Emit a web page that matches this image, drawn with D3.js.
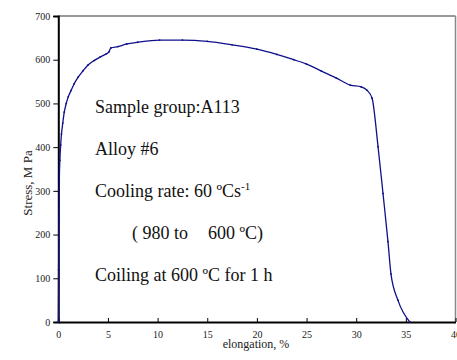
<!DOCTYPE html>
<html>
<head>
<meta charset="utf-8">
<script src="https://cdn.jsdelivr.net/npm/d3@7"></script>
<style>
body{margin:0;background:#fff;}
text{font-family:"Liberation Serif","Times New Roman",serif;}
</style>
</head>
<body>
<svg id="chart" width="457" height="360"></svg>
<script>
// elongation (%) and stress (MPa)
elong=[0,0.03,0.06,0.1,0.16,0.24,0.32,0.45,0.6,0.8,1.0,1.3,1.6,2.0,2.5,3.0,3.6,4.2,4.8,5.1,5.3,6.0,6.9,8.0,10.2,12.5,15,17.5,20,22,23.7,25,26.5,28,29.4,30.5,31.1,31.6,32.2,32.7,33.2,33.5,34.2,35.4];
stress=[0,120,230,320,370,405,430,455,480,500,515,530,545,560,575,588,598,606,613,618,627,630,636,640,645,645,642,634,624,612,600,590,574,558,542,538,530,512,401,294,184,110,50,0];
xTicks=[0,5,10,15,20,25,30,35,40];
yTicks=[0,100,200,300,400,500,600,700];
notes=["Sample group:A113","Alloy #6","Cooling rate: 60 ºCs","( 980 to","600 ºC)","Coiling at 600 ºC for 1 h"];

svg=d3.select("#chart");
x=d3.scaleLinear().domain([0,40]).range([58.3,455.5]);
y=d3.scaleLinear().domain([0,700]).range([322,16]);

// plot frame (top / right)
svg.append("line").attr("x1",x(0)).attr("x2",x(40)).attr("y1",y(700)).attr("y2",y(700))
   .attr("stroke","#333").attr("stroke-width",1);
svg.append("line").attr("x1",x(40)).attr("x2",x(40)).attr("y1",y(700)).attr("y2",y(0))
   .attr("stroke","#888").attr("stroke-width",1.5);

// axes
xAxis=svg.append("g").attr("transform","translate(0,"+y(0)+")")
   .call(d3.axisBottom(x).tickValues(xTicks).tickSizeInner(-4).tickSizeOuter(0).tickPadding(9));
yAxis=svg.append("g").attr("transform","translate("+x(0)+",0)")
   .call(d3.axisLeft(y).tickValues(yTicks).tickSize(5).tickPadding(3));
[xAxis,yAxis].forEach(function(a){
     a.select(".domain").attr("stroke","#000").attr("stroke-width",2);
     a.selectAll(".tick line").attr("stroke","#000").attr("stroke-width",1);
     a.selectAll(".tick text").attr("font-family","Liberation Serif, serif")
      .attr("font-size","10px").attr("fill","#222");
});

// curve
line=d3.line().x(function(d,i){return x(elong[i]);}).y(function(d){return y(d);})
   .curve(d3.curveMonotoneX);
svg.append("path").datum(stress).attr("d",line)
   .attr("fill","none").attr("stroke","#10108c").attr("stroke-width",1.3);
// small markers along the curve
svg.selectAll(".pt").data(stress).enter().append("circle")
   .attr("cx",function(d,i){return x(elong[i]);}).attr("cy",function(d){return y(d);})
   .attr("r",0.9).attr("fill","#10108c");

// axis titles
svg.append("text").text("elongation, %").attr("x",256).attr("y",348)
   .attr("text-anchor","middle").attr("font-size","12px").attr("fill","#222");
svg.append("text").text("Stress, M Pa").attr("transform","translate(32,183) rotate(-90)")
   .attr("text-anchor","middle").attr("font-size","13px").attr("fill","#222");

// annotations
notePos=[[95,113],[95,155],[95,197],[132,239],[208,239],[95,281]];
notes.forEach(function(t,i){
     tx=svg.append("text").attr("x",notePos[i][0]).attr("y",notePos[i][1])
        .attr("font-size","18px").attr("fill","#111").text(t);
     if(i==2){
          tx.append("tspan").text("-1").attr("font-size","11px").attr("dy",-7);
     }
});
</script>
</body>
</html>
